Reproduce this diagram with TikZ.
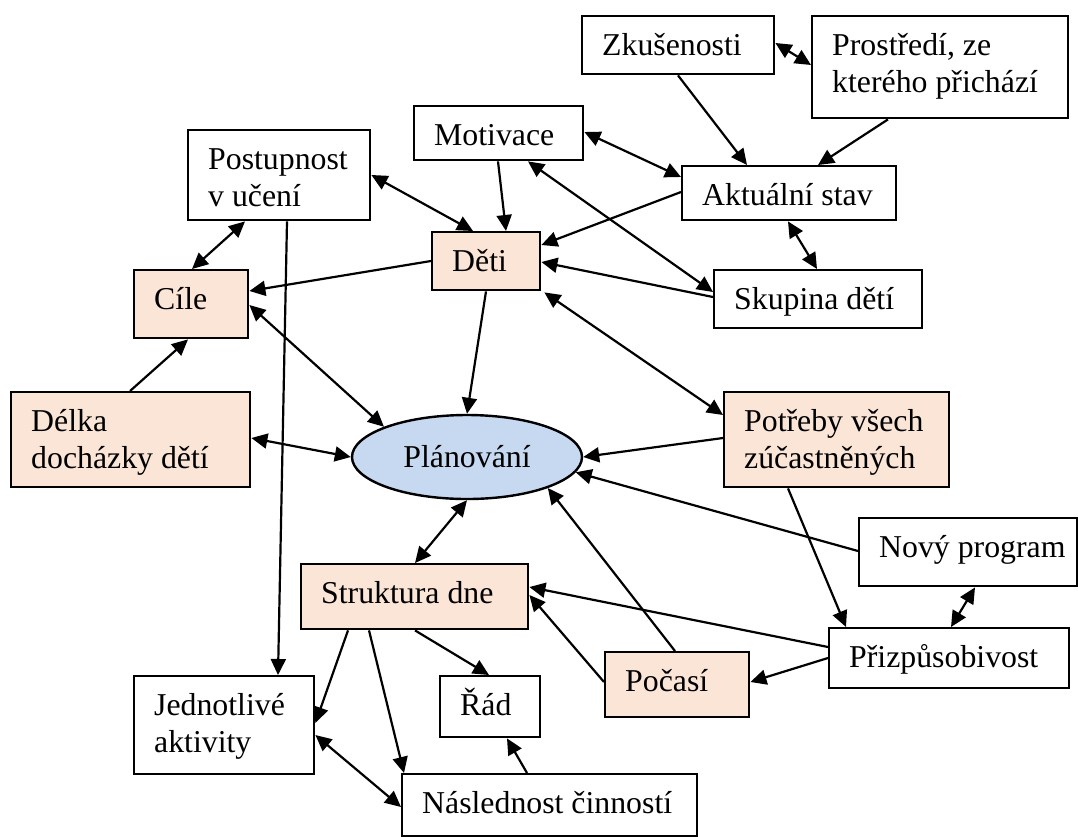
\documentclass[tikz,border=0pt]{standalone}
\usepackage{fontspec}
\setmainfont{Liberation Serif}
\usetikzlibrary{arrows.meta,shapes.geometric}

\definecolor{peach}{RGB}{251,229,214}
\definecolor{planblue}{RGB}{198,217,240}

% two stacked lines, baseline at the first one
\newcommand\twol[2]{\vtop{\hbox{#1}\hbox{#2}}}

% box: name, left, top, right, bottom, text, extra style
\newcommand\bx[7]{%
  \node[box,#7,minimum width={#4-#2},minimum height={#5-#3},anchor=north west] (#1) at (#2,#3) {};
  \node[txt] (#1-t) at ([shift={(21,40)}]#1.north west) {#6};
}

\tikzset{
  box/.style={draw=black,line width=2.4pt,fill=white,inner sep=0pt,rectangle},
  warm/.style={fill=peach},
  plain/.style={},
  txt/.style={anchor=base west,inner sep=0pt,font=\fontsize{31.8}{37}\selectfont},
  tip/.tip={Triangle[length=16pt,width=15pt]},
  arr/.style={line width=2.2pt,-tip},
  darr/.style={line width=2.2pt,tip-tip},
}

\begin{document}
\begin{tikzpicture}[x=1pt,y=-1pt]
\useasboundingbox (0,0) rectangle (1078,836);

% boxes
\bx{zk}{581}{15}{773}{73}{Zkušenosti}{plain}
\bx{pro}{811}{15}{1067}{117}{\twol{Prostředí, ze}{kterého přichází}}{plain}
\bx{mot}{413}{105}{582}{159}{Motivace}{plain}
\bx{akt}{681}{165}{895}{219}{Aktuální stav}{plain}
\bx{deti}{431}{231}{539}{289}{Děti}{warm}
\bx{sk}{713}{269}{921}{327}{Skupina dětí}{plain}
\bx{post}{187}{129}{369}{219}{\twol{Postupnost}{v učení}}{plain}
\bx{cile}{133}{269}{247}{337}{Cíle}{warm}
\bx{delka}{10}{391}{249}{486}{\twol{Délka}{docházky dětí}}{warm}
\bx{pot}{723}{391}{948}{486}{\twol{Potřeby všech}{zúčastněných}}{warm}
\bx{novy}{858}{517}{1076}{585}{Nový program}{plain}
\bx{priz}{828}{627}{1068}{687}{Přizpůsobivost}{plain}
\bx{struk}{300}{563}{527}{628}{Struktura dne}{warm}
\bx{poc}{604}{651}{748}{716}{Počasí}{warm}
\bx{rad}{439}{675}{539}{736}{Řád}{plain}
\bx{nasl}{401}{773}{696}{835}{Následnost činností}{plain}
\bx{jedn}{133}{675}{313}{773}{\twol{Jednotlivé}{aktivity}}{plain}

% central ellipse
\node[ellipse,draw=black,line width=2.4pt,fill=planblue,inner sep=0pt,
      minimum width=230,minimum height=84,
      font=\fontsize{31.8}{37}\selectfont] (plan) at (467,457) {Plánování};

% connectors, top group
\draw[darr] ([shift={(0,28)}]zk.north east) -- ([shift={(0,50)}]pro.north west);
\draw[arr] ([shift={(97,0)}]zk.south west) -- ([shift={(66,0)}]akt.north west);
\draw[arr] ([shift={(77,0)}]pro.south west) -- ([shift={(137,0)}]akt.north west);
\draw[darr] ([shift={(0,27)}]mot.north east) -- ([shift={(0,12)}]akt.north west);
\draw[arr] ([shift={(85,0)}]mot.south west) -- ([shift={(75,0)}]deti.north west);
\draw[arr] ([shift={(0,27)}]akt.north west) -- ([shift={(0,14)}]deti.north east);
\draw[darr] ([shift={(115,0)}]mot.south west) -- ([shift={(0,23)}]sk.north west);
\draw[arr] ([shift={(0,28)}]sk.north west) -- ([shift={(0,31)}]deti.north east);
\draw[darr] ([shift={(107,0)}]akt.south west) -- ([shift={(104,0)}]sk.north west);

% connectors, left group
\draw[darr] ([shift={(0,46)}]post.north east) -- ([shift={(42,0)}]deti.north west);
\draw[darr] ([shift={(58,0)}]post.south west) -- ([shift={(59,0)}]cile.north west);
\draw[arr] ([shift={(0,30)}]deti.north west) -- ([shift={(0,22)}]cile.north east);
\draw[darr] ([shift={(0,36)}]cile.north east) -- (plan.160);
\draw[arr] ([shift={(100,0)}]post.south west) -- ([shift={(145,0)}]jedn.north west);
\draw[arr] ([shift={(120,0)}]delka.north west) -- ([shift={(55,0)}]cile.south west);
\draw[darr] ([shift={(0,47)}]delka.north east) -- (plan.west);

% connectors into the ellipse
\draw[arr] ([shift={(55,0)}]deti.south west) -- (plan.north);
\draw[darr] ([shift={(3,1)}]deti.south east) -- ([shift={(0,24)}]pot.north west);
\draw[arr] ([shift={(0,47)}]pot.north west) -- (plan.east);
\draw[arr] ([shift={(0,34)}]novy.north west) -- (plan.-8);
\draw[arr] ([shift={(71,0)}]poc.north west) -- (plan.-21);
\draw[darr] (plan.south) -- ([shift={(115,0)}]struk.north west);

% connectors, right and bottom group
\draw[arr] ([shift={(65,0)}]pot.south west) -- ([shift={(18,0)}]priz.north west);
\draw[darr] ([shift={(117,0)}]novy.south west) -- ([shift={(123,0)}]priz.north west);
\draw[arr] ([shift={(0,20)}]priz.north west) -- ([shift={(0,24)}]struk.north east);
\draw[arr] ([shift={(0,31)}]priz.north west) -- ([shift={(0,31)}]poc.north east);
\draw[arr] ([shift={(0,31)}]poc.north west) -- ([shift={(0,32)}]struk.north east);
\draw[arr] ([shift={(48,0)}]struk.south west) -- ([shift={(0,48)}]jedn.north east);
\draw[arr] ([shift={(69,0)}]struk.south west) -- ([shift={(3,0)}]nasl.north west);
\draw[arr] ([shift={(115,0)}]struk.south west) -- ([shift={(50,0)}]rad.north west);
\draw[arr] ([shift={(126,0)}]nasl.north west) -- ([shift={(68,0)}]rad.south west);
\draw[darr] ([shift={(0,60)}]jedn.north east) -- ([shift={(0,34)}]nasl.north west);
\end{tikzpicture}
\end{document}
